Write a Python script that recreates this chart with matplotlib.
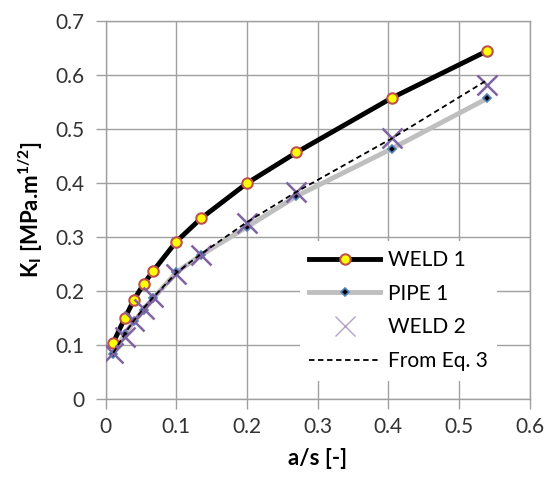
import matplotlib
matplotlib.use('Agg')
import matplotlib.pyplot as plt

plt.rcParams['font.family'] = ['Lato', 'DejaVu Sans']
plt.rcParams['mathtext.fontset'] = 'custom'
plt.rcParams['mathtext.rm'] = 'Lato'
plt.rcParams['mathtext.bf'] = 'Lato:bold'

# data
a_s = [0.0108, 0.027, 0.04, 0.054, 0.0675, 0.1, 0.135, 0.2, 0.27, 0.405, 0.54]
weld1 = [0.104, 0.149, 0.183, 0.213, 0.237, 0.291, 0.334, 0.399, 0.456, 0.557, 0.644]
pipe1 = [0.082, 0.119, 0.143, 0.165, 0.186, 0.234, 0.266, 0.318, 0.375, 0.463, 0.556]
weld2 = [0.084, 0.115, 0.143, 0.167, 0.188, 0.231, 0.266, 0.325, 0.383, 0.482, 0.581]
eq3 = [0.085, 0.120, 0.145, 0.168, 0.188, 0.233, 0.268, 0.327, 0.383, 0.482, 0.590]

x_ticks = [0, 0.1, 0.2, 0.3, 0.4, 0.5, 0.6]
y_ticks = [0, 0.1, 0.2, 0.3, 0.4, 0.5, 0.6, 0.7]

fig = plt.figure(figsize=(5.49, 4.86), dpi=100)
ax = fig.add_axes([0.1925, 0.1796, 0.772, 0.7778])

ax.plot(a_s, weld1, color='black', lw=3.5, marker='o', ms=7.5,
        mfc='#FFFF00', mec='#C0504D', mew=1.5, label='WELD 1', zorder=4)
ax.plot(a_s, pipe1, color='#BFBFBF', lw=3.5, marker='D', ms=4.5,
        mfc='black', mec='#4F81BD', mew=1.2, label='PIPE 1', zorder=3)
ax.plot(a_s, weld2, ls='none', marker='x', ms=14, mec='#8064A2', mew=1.8,
        label='WELD 2', zorder=5)
ax.plot(a_s, eq3, color='black', ls=(0, (3, 2)), lw=1.3, label='From Eq. 3', zorder=6)

ax.set_xlim(0, 0.6)
ax.set_ylim(0, 0.7)
ax.set_xticks(x_ticks)
ax.set_yticks(y_ticks)
ax.set_xticklabels([f'{v:g}' for v in x_ticks])
ax.set_yticklabels([f'{v:g}' for v in y_ticks])
ax.tick_params(labelsize=15, length=7, width=1, color='#A0A0A0', labelcolor='#333333')
ax.tick_params(axis='x', pad=6)
ax.tick_params(axis='y', pad=8)
ax.grid(True, color='#A0A0A0', lw=1)
for s in ax.spines.values():
    s.set_color('#A0A0A0')
    s.set_linewidth(1)
ax.set_axisbelow(True)

ax.set_xlabel('a/s [-]', fontsize=16, fontweight='bold', labelpad=8)
ax.set_ylabel(r'K$_\mathbf{I}$ [MPa.m$^\mathbf{1/2}$]', fontsize=16, fontweight='bold', labelpad=8)

leg = ax.legend(loc='upper left', bbox_to_anchor=(0.4587, 0.4185), borderaxespad=0,
                fontsize=15, frameon=True, handlelength=3.4, handletextpad=0.35,
                labelspacing=0.66, borderpad=0.45)
leg.get_frame().set_edgecolor('none')
leg.get_frame().set_facecolor('white')
leg.get_frame().set_alpha(1)
leg.get_frame().set_boxstyle('square', pad=0)
# the legend cross is drawn thinner and lighter than the data markers
leg.legend_handles[2].set_markeredgewidth(1.0)
leg.legend_handles[2].set_markeredgecolor('#B3A2C7')

fig.savefig('out.png', dpi=100)
